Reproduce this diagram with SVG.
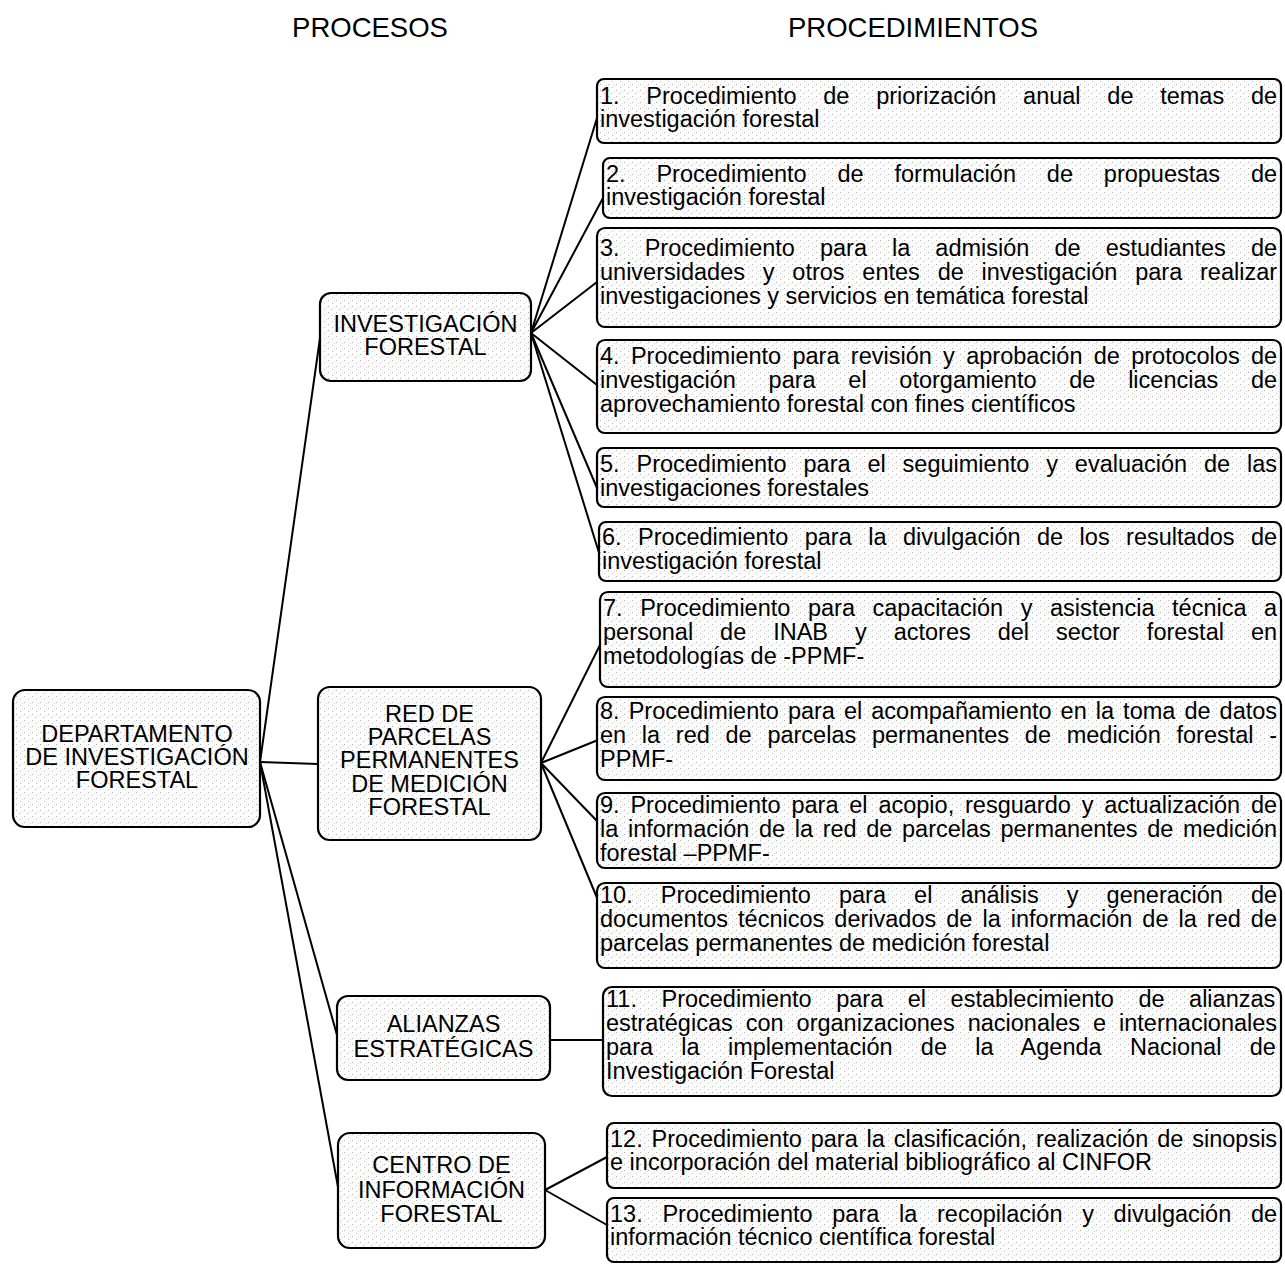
<svg xmlns="http://www.w3.org/2000/svg" width="1285" height="1268" viewBox="0 0 1285 1268">
<defs>
<pattern id="dots" width="8" height="6" patternUnits="userSpaceOnUse">
<rect width="8" height="6" fill="#fdfdfd"/>
<rect x="0" y="0" width="1" height="1" fill="#b0b0b0"/>
<rect x="4" y="3" width="1" height="1" fill="#c4c4c4"/>
<rect x="6" y="1" width="1" height="1" fill="#dadada"/>
</pattern>
</defs>
<style>
.box{fill:url(#dots);stroke:#000;stroke-width:2.2}
.h{font-family:'Liberation Sans',Arial,sans-serif;font-size:27.5px;fill:#000;text-anchor:middle}
.c{font-family:'Liberation Sans',Arial,sans-serif;font-size:23.5px;fill:#000;text-anchor:middle}
.p{font-family:'Liberation Sans',Arial,sans-serif;font-size:23.5px;fill:#000}
.ln{stroke:#000;stroke-width:2;fill:none}
</style>
<rect width="1285" height="1268" fill="#fff"/>
<text class="h" x="370" y="37">PROCESOS</text>
<text class="h" x="913" y="37">PROCEDIMIENTOS</text>

<g id="connectors">
<line class="ln" x1="260" y1="762" x2="320" y2="338"/>
<line class="ln" x1="260" y1="762" x2="318" y2="764"/>
<line class="ln" x1="260" y1="762" x2="337" y2="1035"/>
<line class="ln" x1="260" y1="762" x2="338" y2="1187"/>
<line class="ln" x1="531" y1="333" x2="597" y2="118"/>
<line class="ln" x1="531" y1="333" x2="603" y2="198"/>
<line class="ln" x1="531" y1="333" x2="597" y2="282"/>
<line class="ln" x1="531" y1="333" x2="597" y2="385"/>
<line class="ln" x1="531" y1="333" x2="597" y2="488"/>
<line class="ln" x1="531" y1="333" x2="600" y2="556"/>
<line class="ln" x1="541" y1="763" x2="600" y2="645"/>
<line class="ln" x1="541" y1="763" x2="598" y2="740"/>
<line class="ln" x1="541" y1="763" x2="598" y2="822"/>
<line class="ln" x1="541" y1="763" x2="600" y2="905"/>
<line class="ln" x1="550" y1="1040" x2="603" y2="1040"/>
<line class="ln" x1="545" y1="1190" x2="607" y2="1157"/>
<line class="ln" x1="545" y1="1190" x2="607" y2="1225"/>
</g>

<g id="dept">
<rect class="box" x="13" y="690" width="247" height="137" rx="12"/>
<text class="c"><tspan x="137" y="742">DEPARTAMENTO</tspan><tspan x="137" y="765">DE INVESTIGACIÓN</tspan><tspan x="137" y="788">FORESTAL</tspan></text>
</g>
<g id="p-investigacion">
<rect class="box" x="320" y="293" width="211" height="88" rx="11"/>
<text class="c"><tspan x="425.5" y="332">INVESTIGACIÓN</tspan><tspan x="425.5" y="355">FORESTAL</tspan></text>
</g>
<g id="p-red">
<rect class="box" x="318" y="687" width="223" height="153" rx="12"/>
<text class="c"><tspan x="429.5" y="722">RED DE</tspan><tspan x="429.5" y="745">PARCELAS</tspan><tspan x="429.5" y="768">PERMANENTES</tspan><tspan x="429.5" y="792">DE MEDICIÓN</tspan><tspan x="429.5" y="815">FORESTAL</tspan></text>
</g>
<g id="p-alianzas">
<rect class="box" x="337" y="996" width="213" height="84" rx="11"/>
<text class="c"><tspan x="443.5" y="1032">ALIANZAS</tspan><tspan x="443.5" y="1057">ESTRATÉGICAS</tspan></text>
</g>
<g id="p-centro">
<rect class="box" x="338" y="1133" width="207" height="115" rx="12"/>
<text class="c"><tspan x="441.5" y="1173">CENTRO DE</tspan><tspan x="441.5" y="1198">INFORMACIÓN</tspan><tspan x="441.5" y="1222">FORESTAL</tspan></text>
</g>

<g id="proc1">
<rect class="box" x="597" y="79" width="684" height="64" rx="7"/>
<text class="p"><tspan x="600" y="104" word-spacing="20.21">1. Procedimiento de priorización anual de temas de</tspan><tspan x="600" y="127" word-spacing="0">investigación forestal</tspan></text>
</g>
<g id="proc2">
<rect class="box" x="603" y="158" width="678" height="60" rx="7"/>
<text class="p"><tspan x="606" y="182" word-spacing="24.32">2. Procedimiento de formulación de propuestas de</tspan><tspan x="606" y="205" word-spacing="0">investigación forestal</tspan></text>
</g>
<g id="proc3">
<rect class="box" x="597" y="228" width="684" height="99" rx="8"/>
<text class="p"><tspan x="600" y="256" word-spacing="18.53">3. Procedimiento para la admisión de estudiantes de</tspan><tspan x="600" y="280" word-spacing="11.26">universidades y otros entes de investigación para realizar</tspan><tspan x="600" y="304" word-spacing="0">investigaciones y servicios en temática forestal</tspan></text>
</g>
<g id="proc4">
<rect class="box" x="597" y="340" width="684" height="93" rx="8"/>
<text class="p"><tspan x="600" y="364" word-spacing="4.79">4. Procedimiento para revisión y aprobación de protocolos de</tspan><tspan x="600" y="388" word-spacing="26.2">investigación para el otorgamiento de licencias de</tspan><tspan x="600" y="412" word-spacing="0">aprovechamiento forestal con fines científicos</tspan></text>
</g>
<g id="proc5">
<rect class="box" x="597" y="448" width="684" height="59" rx="7"/>
<text class="p"><tspan x="600" y="472" word-spacing="10.34">5. Procedimiento para el seguimiento y evaluación de las</tspan><tspan x="600" y="496" word-spacing="0">investigaciones forestales</tspan></text>
</g>
<g id="proc6">
<rect class="box" x="599" y="522" width="682" height="59" rx="7"/>
<text class="p"><tspan x="602" y="545" word-spacing="9.93">6. Procedimiento para la divulgación de los resultados de</tspan><tspan x="602" y="569" word-spacing="0">investigación forestal</tspan></text>
</g>
<g id="proc7">
<rect class="box" x="600" y="592" width="681" height="95" rx="8"/>
<text class="p"><tspan x="603" y="616" word-spacing="11.02">7. Procedimiento para capacitación y asistencia técnica a</tspan><tspan x="603" y="640" word-spacing="20.41">personal de INAB y actores del sector forestal en</tspan><tspan x="603" y="664" word-spacing="0">metodologías de -PPMF-</tspan></text>
</g>
<g id="proc8">
<rect class="box" x="597" y="697" width="684" height="83" rx="8"/>
<text class="p"><tspan x="600" y="719" word-spacing="2.51">8. Procedimiento para el acompañamiento en la toma de datos</tspan><tspan x="600" y="743" word-spacing="9.19">en la red de parcelas permanentes de medición forestal -</tspan><tspan x="600" y="767" word-spacing="0">PPMF-</tspan></text>
</g>
<g id="proc9">
<rect class="box" x="597" y="793" width="684" height="75" rx="8"/>
<text class="p"><tspan x="600" y="813" word-spacing="4.29">9. Procedimiento para el acopio, resguardo y actualización de</tspan><tspan x="600" y="837" word-spacing="3.09">la información de la red de parcelas permanentes de medición</tspan><tspan x="600" y="861" word-spacing="0">forestal –PPMF-</tspan></text>
</g>
<g id="proc10">
<rect class="box" x="597" y="883" width="684" height="85" rx="8"/>
<text class="p"><tspan x="600" y="903" word-spacing="21.52">10. Procedimiento para el análisis y generación de</tspan><tspan x="600" y="927" word-spacing="3.52">documentos técnicos derivados de la información de la red de</tspan><tspan x="600" y="951" word-spacing="0">parcelas permanentes de medición forestal</tspan></text>
</g>
<g id="proc11">
<rect class="box" x="603" y="987" width="678" height="109" rx="9"/>
<text class="p"><tspan x="606" y="1007" word-spacing="18.0">11. Procedimiento para el establecimiento de alianzas</tspan><tspan x="606" y="1031" word-spacing="6.46">estratégicas con organizaciones nacionales e internacionales</tspan><tspan x="606" y="1055" word-spacing="21.78">para la implementación de la Agenda Nacional de</tspan><tspan x="606" y="1079" word-spacing="0">Investigación Forestal</tspan></text>
</g>
<g id="proc12">
<rect class="box" x="607" y="1123" width="674" height="65" rx="7"/>
<text class="p"><tspan x="610" y="1147" word-spacing="2.37">12. Procedimiento para la clasificación, realización de sinopsis</tspan><tspan x="610" y="1170" word-spacing="0">e incorporación del material bibliográfico al CINFOR</tspan></text>
</g>
<g id="proc13">
<rect class="box" x="607" y="1198" width="674" height="64" rx="7"/>
<text class="p"><tspan x="610" y="1222" word-spacing="13.18">13. Procedimiento para la recopilación y divulgación de</tspan><tspan x="610" y="1245" word-spacing="0">información técnico científica forestal</tspan></text>
</g>
</svg>
